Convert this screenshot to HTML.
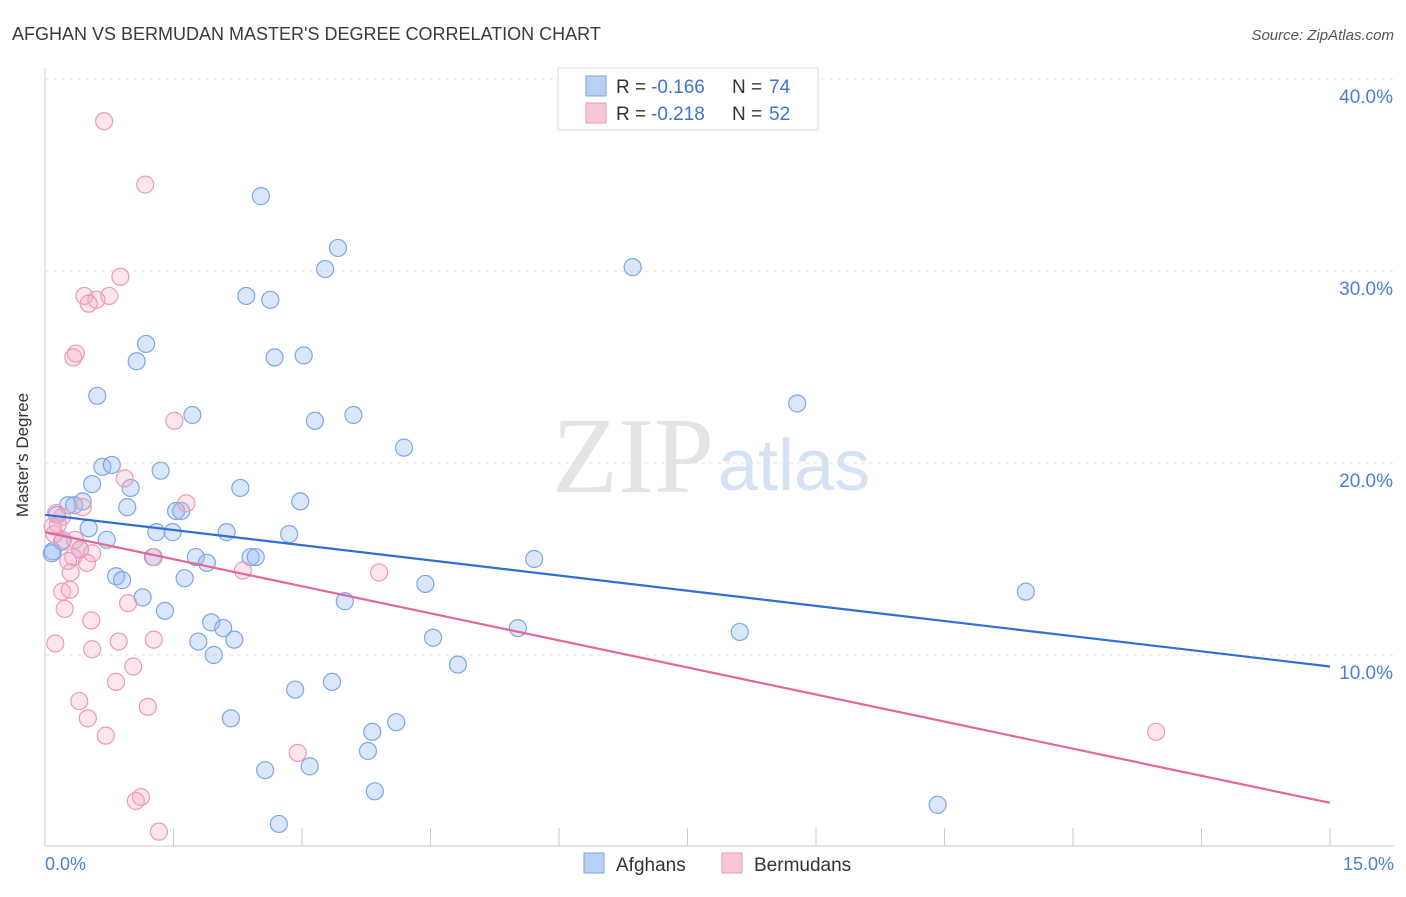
<!DOCTYPE html>
<html><head><meta charset="utf-8"><style>
body{margin:0;background:#fff;font-family:"Liberation Sans",sans-serif}
</style></head><body>
<svg id="chart" width="1406" height="892" xmlns="http://www.w3.org/2000/svg">
<text x="12" y="40" font-size="18" fill="#3a3a3a">AFGHAN VS BERMUDAN MASTER'S DEGREE CORRELATION CHART</text>
<text x="1394" y="40" font-size="15" fill="#555" font-style="italic" text-anchor="end">Source: ZipAtlas.com</text>
<text x="714" y="492" font-size="108" fill="#e4e4e4" font-family="Liberation Serif" text-anchor="end">ZIP</text>
<text x="718" y="490" font-size="72" fill="#d4e2f4">atlas</text>
<g id="grid"></g><g id="axes"></g><g id="pts"></g><g id="lines"></g>
<text x="28" y="455" font-size="17" fill="#333" text-anchor="middle" transform="rotate(-90 28 455)">Master's Degree</text>
<text x="45" y="870" font-size="18" fill="#4a7fd6">0.0%</text>
<text x="1394" y="870" font-size="18" fill="#4a7fd6" text-anchor="end">15.0%</text>
<g>
<rect x="558" y="68" width="260" height="62" fill="#fff" stroke="#ddd"/>
<rect x="586" y="76" width="20" height="20" fill="#b8d0f3" stroke="#7aa3e0"/>
<rect x="586" y="103" width="20" height="20" fill="#f8c8d6" stroke="#e99ab3"/>
<text x="616" y="93" font-size="19" fill="#333">R =</text>
<text x="651" y="93" font-size="19" fill="#3b73d4">-0.166</text>
<text x="732" y="93" font-size="19" fill="#333">N =</text>
<text x="769" y="93" font-size="19" fill="#3b73d4">74</text>
<text x="616" y="120" font-size="19" fill="#333">R =</text>
<text x="651" y="120" font-size="19" fill="#3b73d4">-0.218</text>
<text x="732" y="120" font-size="19" fill="#333">N =</text>
<text x="769" y="120" font-size="19" fill="#3b73d4">52</text>
</g>
<g>
<rect x="584" y="853" width="20" height="20" fill="#b8d0f3" stroke="#7aa3e0"/>
<text x="616" y="871" font-size="19" fill="#333">Afghans</text>
<rect x="722" y="853" width="20" height="20" fill="#f8c8d6" stroke="#e99ab3"/>
<text x="754" y="871" font-size="19" fill="#333">Bermudans</text>
</g>
</svg>
<script>
const yTicks=[10,20,30,40];
const xTicks=[0,1.5,3,4.5,6,7.5,9,10.5,12,13.5,15];
const afghanX=[2.52,3.42,3.27,6.86,2.35,2.63,1.18,1.07,2.68,3.02,0.61,8.78,1.72,3.15,3.60,4.19,0.67,0.78,1.35,0.55,1.00,2.28,0.27,0.44,0.34,0.96,2.98,1.53,1.59,0.51,0.14,1.30,1.49,2.12,2.85,0.72,0.20,0.09,0.41,0.08,1.26,1.76,1.89,2.40,2.46,5.71,0.83,0.90,1.63,4.44,11.45,1.14,3.50,1.40,1.94,2.08,1.79,2.21,4.53,5.52,8.11,1.97,4.82,2.92,3.35,2.17,4.10,3.82,3.77,2.57,3.09,3.85,10.42,2.73];
const afghanY=[33.9,31.2,30.1,30.2,28.7,28.5,26.2,25.3,25.5,25.6,23.5,23.1,22.5,22.2,22.5,20.8,19.8,19.9,19.6,18.9,18.7,18.7,17.8,18.0,17.8,17.7,18.0,17.5,17.5,16.6,17.3,16.4,16.4,16.4,16.3,16.0,15.9,15.4,15.5,15.3,15.1,15.1,14.8,15.1,15.1,15.0,14.1,13.9,14.0,13.7,13.3,13.0,12.8,12.3,11.7,11.4,10.7,10.8,10.9,11.4,11.2,10.0,9.5,8.2,8.6,6.7,6.5,6.0,5.0,4.0,4.2,2.9,2.2,1.2];
const bermudanX=[0.69,1.17,0.88,0.46,0.75,0.60,0.51,0.36,0.33,1.51,0.93,1.65,0.44,0.13,0.20,0.15,0.09,0.11,0.21,0.35,0.41,0.55,0.33,1.27,0.27,0.49,2.31,3.90,0.30,0.20,0.29,0.97,0.23,0.54,0.86,1.27,0.12,0.55,1.03,0.83,0.40,1.20,0.50,0.71,2.95,12.97,1.12,1.06,1.33];
const bermudanY=[37.8,34.5,29.7,28.7,28.7,28.5,28.3,25.7,25.5,22.2,19.2,17.9,17.7,17.4,17.2,16.8,16.7,16.3,16.0,16.0,15.5,15.3,15.1,15.1,14.9,14.8,14.4,14.3,14.3,13.3,13.4,12.7,12.4,11.8,10.7,10.8,10.6,10.3,9.4,8.6,7.6,7.3,6.7,5.8,4.9,6.0,2.6,2.4,0.8];
const afghanFit=[17.3,9.4], bermudanFit=[16.4,2.3];
const NS="http://www.w3.org/2000/svg";
const X=v=>45+v/15*1285, Y=v=>847-v*19.2;
function mk(tag,attrs,parent){const e=document.createElementNS(NS,tag);for(const k in attrs)e.setAttribute(k,attrs[k]);parent.appendChild(e);return e;}
const grid=document.getElementById('grid'),axes=document.getElementById('axes'),pts=document.getElementById('pts'),lines=document.getElementById('lines');
yTicks.forEach(t=>{
 const l=mk('line',{x1:45,x2:1394,y1:Y(t),y2:Y(t),stroke:'#e2e2e2','stroke-dasharray':'4,4'},grid);
 
 
 const tx=mk('text',{x:1393,y:Y(t)+24,'font-size':19,fill:'#4a7fd6','text-anchor':'end'},grid);
 tx.textContent=t.toFixed(1)+'%';
 
 
});
const ya=mk('line',{x1:45,x2:45,y1:68,y2:846,stroke:'#ccc'},axes);


const xa=mk('line',{x1:45,x2:1394,y1:846,y2:846,stroke:'#ccc'},axes);


xTicks.forEach(t=>{
 const l=mk('line',{x1:X(t),x2:X(t),y1:828,y2:846,stroke:'#ccc'},axes);
 
 
});
function series(xs,ys,fill,stroke,name){
 xs.forEach((x,i)=>{
  const c=mk('circle',{cx:X(x),cy:Y(ys[i]),r:8.5,fill:fill,stroke:stroke,'stroke-width':1.2},pts);
  
  
 });
}
series(afghanX,afghanY,'rgba(150,185,240,0.35)','#7ea6e3','afghan-point');
series(bermudanX,bermudanY,'rgba(245,170,195,0.3)','#eb9ab5','bermudan-point');
const l1=mk('line',{x1:X(0),y1:Y(afghanFit[0]),x2:X(15),y2:Y(afghanFit[1]),stroke:'#2f6fd6','stroke-width':2.2},lines);


const l2=mk('line',{x1:X(0),y1:Y(bermudanFit[0]),x2:X(15),y2:Y(bermudanFit[1]),stroke:'#e4679a','stroke-width':2.2},lines);


</script>
</body></html>
